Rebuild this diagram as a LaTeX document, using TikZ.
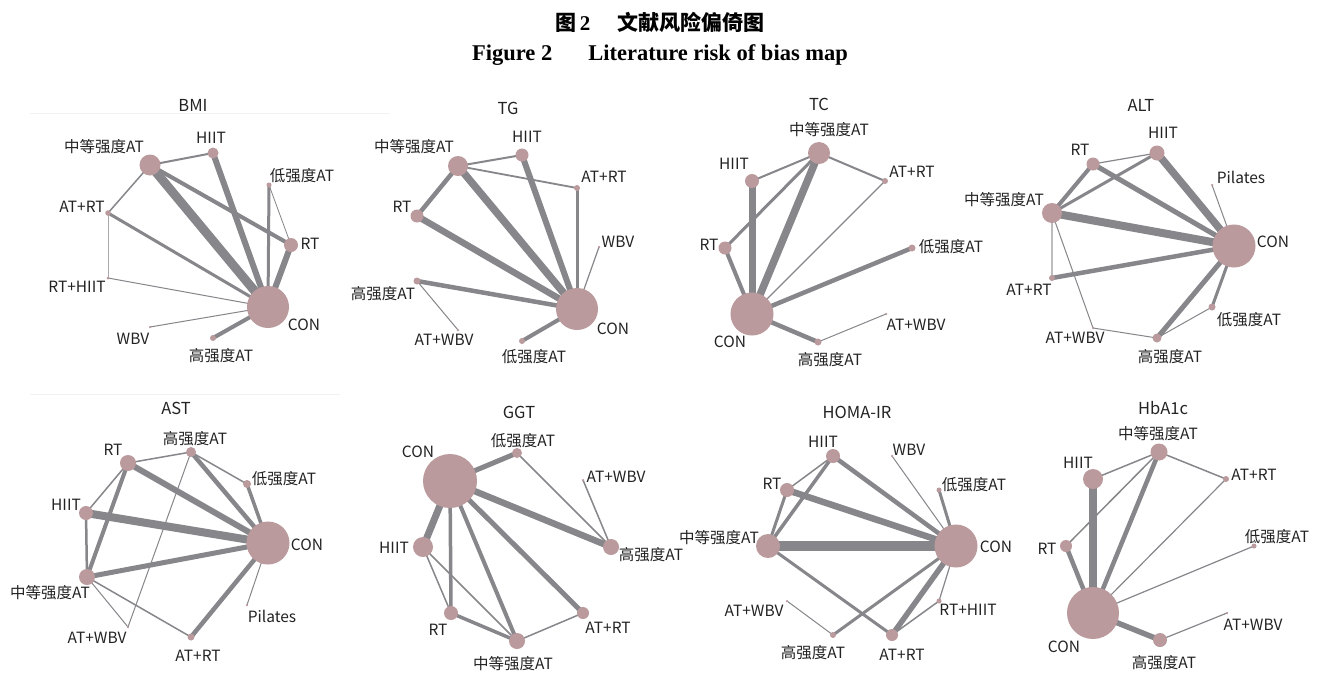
\documentclass[tikz,border=0pt]{standalone}
\usepackage{fontspec}
\setmainfont{Noto Sans CJK SC}
\newfontfamily\serifbf{Liberation Serif}
\usetikzlibrary{backgrounds}
\definecolor{edgec}{RGB}{134,134,139}
\definecolor{nodec}{RGB}{186,154,156}
\definecolor{titlec}{RGB}{35,35,35}
\tikzset{
  nd/.style={circle, fill=nodec, inner sep=0pt, minimum size=#1},
  lab/.style={font=\fontsize{15.5}{17}\selectfont, text=titlec, inner sep=0pt},
  ptitle/.style={font=\fontsize{16.5}{18}\selectfont, text=titlec, inner sep=0pt},
  ed/.style={draw=edgec, line width=#1},
  faint/.style={draw=black!5, line width=0.8}
}
\begin{document}
\begin{tikzpicture}[x=1pt,y=-1pt]
\useasboundingbox (0,0) rectangle (1320,673);
\begin{pgfonlayer}{background}
\fill[white] (0,0) rectangle (1320,673);
\end{pgfonlayer}
% figure title
\node[inner sep=0pt, font=\fontsize{21}{24}\selectfont\bfseries] (t1) at (660,22) {图\,{\serifbf\bfseries 2}\hspace{1.3em}文献风险偏倚图};
\node[inner sep=0pt, font=\fontsize{22.5}{25}\serifbf\bfseries] (t2) at (660,55) {Figure 2\hspace{1.6em}Literature risk of bias map};
% faint frame lines
\draw[faint] (30,113) -- (390,113);
\draw[faint] (30,394) -- (340,394);

% ================= BMI =================
\node[ptitle] (aT) at (193,105) {BMI};
\node[nd=21] (aM) at (150,165) {};
\node[nd=11] (aH) at (213,153) {};
\node[nd=5] (aL) at (269,185) {};
\node[nd=5.5] (aA) at (108,213) {};
\node[nd=14] (aR) at (291,245) {};
\node[nd=3] (aRH) at (108,278) {};
\node[nd=42] (aC) at (268,307) {};
\node[nd=2.5] (aW) at (150,327) {};
\node[nd=6] (aHi) at (213,338) {};
\node[lab] (aMl) at (104,147) {中等强度AT};
\node[lab] (aHl) at (211,138) {HIIT};
\node[lab] (aLl) at (302,176) {低强度AT};
\node[lab] (aAl) at (82,207) {AT+RT};
\node[lab] (aRl) at (310,244) {RT};
\node[lab] (aRHl) at (77,287) {RT+HIIT};
\node[lab] (aCl) at (304,325) {CON};
\node[lab] (aWl) at (133,339) {WBV};
\node[lab] (aHil) at (221,356) {高强度AT};
\begin{pgfonlayer}{background}
\draw[ed=2] (aM.center) -- (aH.center);
\draw[ed=9] (aM.center) -- (aC.center);
\draw[ed=4] (aM.center) -- (aR.center);
\draw[ed=1.5] (aM.center) -- (aA.center);
\draw[ed=6] (aH.center) -- (aC.center);
\draw[ed=3] (aL.center) -- (aC.center);
\draw[ed=0.8] (aL.center) -- (aR.center);
\draw[ed=6] (aR.center) -- (aC.center);
\draw[ed=3] (aA.center) -- (aC.center);
\draw[ed=0.9, draw=edgec!70] (aA.center) -- (aRH.center);
\draw[ed=1] (aRH.center) -- (aC.center);
\draw[ed=1] (aW.center) -- (aC.center);
\draw[ed=4] (aHi.center) -- (aC.center);
\end{pgfonlayer}

% ================= TG =================
\node[ptitle] (bT) at (508,108) {TG};
\node[nd=20] (bM) at (458,166) {};
\node[nd=13] (bH) at (522,155) {};
\node[nd=6] (bA) at (577,188) {};
\node[nd=13] (bR) at (417,216) {};
\node[nd=2.5] (bW) at (599,247) {};
\node[nd=7] (bHi) at (417,281) {};
\node[nd=2.5] (bAW) at (458,330) {};
\node[nd=42] (bC) at (577,309) {};
\node[nd=6] (bL) at (522,341) {};
\node[lab] (bMl) at (414,147) {中等强度AT};
\node[lab] (bHl) at (527,137) {HIIT};
\node[lab] (bAl) at (604,177) {AT+RT};
\node[lab] (bRl) at (402,207) {RT};
\node[lab] (bWl) at (618,242) {WBV};
\node[lab] (bHil) at (383,294) {高强度AT};
\node[lab] (bAWl) at (444,340) {AT+WBV};
\node[lab] (bCl) at (613,329) {CON};
\node[lab] (bLl) at (534,357) {低强度AT};
\begin{pgfonlayer}{background}
\draw[ed=2] (bM.center) -- (bH.center);
\draw[ed=1.8] (bM.center) -- (bA.center);
\draw[ed=4.5] (bM.center) -- (bR.center);
\draw[ed=7.5] (bM.center) -- (bC.center);
\draw[ed=6] (bH.center) -- (bC.center);
\draw[ed=3] (bA.center) -- (bC.center);
\draw[ed=6.5] (bR.center) -- (bC.center);
\draw[ed=1.2] (bW.center) -- (bC.center);
\draw[ed=4.5] (bHi.center) -- (bC.center);
\draw[ed=1] (bHi.center) -- (bAW.center);
\draw[ed=4] (bL.center) -- (bC.center);
\end{pgfonlayer}

% ================= TC =================
\node[ptitle] (cT) at (819,104) {TC};
\node[nd=22] (cM) at (819,153) {};
\node[nd=14] (cH) at (752,181) {};
\node[nd=6] (cA) at (885,181) {};
\node[nd=13] (cR) at (725,248) {};
\node[nd=7] (cL) at (912,248) {};
\node[nd=43] (cC) at (752,314) {};
\node[nd=2.5] (cAW) at (886,314) {};
\node[nd=7] (cHi) at (818,342) {};
\node[lab] (cMl) at (829,130) {中等强度AT};
\node[lab] (cHl) at (734,164) {HIIT};
\node[lab] (cAl) at (912,172) {AT+RT};
\node[lab] (cRl) at (709,245) {RT};
\node[lab] (cLl) at (951,247) {低强度AT};
\node[lab] (cCl) at (730,342) {CON};
\node[lab] (cAWl) at (916,325) {AT+WBV};
\node[lab] (cHil) at (830,360) {高强度AT};
\begin{pgfonlayer}{background}
\draw[ed=2] (cM.center) -- (cH.center);
\draw[ed=2] (cM.center) -- (cA.center);
\draw[ed=3] (cM.center) -- (cR.center);
\draw[ed=7.5] (cM.center) -- (cC.center);
\draw[ed=7] (cH.center) -- (cC.center);
\draw[ed=1.2] (cA.center) -- (cC.center);
\draw[ed=4] (cR.center) -- (cC.center);
\draw[ed=4.5] (cL.center) -- (cC.center);
\draw[ed=4.5] (cHi.center) -- (cC.center);
\draw[ed=1] (cHi.center) -- (cAW.center);
\end{pgfonlayer}

% ================= ALT =================
\node[ptitle] (dT) at (1141,105) {ALT};
\node[nd=15] (dH) at (1157,153) {};
\node[nd=13] (dR) at (1093,164) {};
\node[nd=2.5] (dP) at (1212,185) {};
\node[nd=20] (dM) at (1052,213) {};
\node[nd=43] (dC) at (1234,246) {};
\node[nd=6] (dA) at (1052,278) {};
\node[nd=7] (dL) at (1212,307) {};
\node[nd=2.5] (dAW) at (1093,328) {};
\node[nd=9] (dHi) at (1157,338) {};
\node[lab] (dHl) at (1163,133) {HIIT};
\node[lab] (dRl) at (1080,150) {RT};
\node[lab] (dPl) at (1241,177) {Pilates};
\node[lab] (dMl) at (1004,200) {中等强度AT};
\node[lab] (dCl) at (1273,242) {CON};
\node[lab] (dAl) at (1029,290) {AT+RT};
\node[lab] (dLl) at (1249,320) {低强度AT};
\node[lab] (dAWl) at (1075,338) {AT+WBV};
\node[lab] (dHil) at (1170,357) {高强度AT};
\begin{pgfonlayer}{background}
\draw[ed=1.2] (dR.center) -- (dH.center);
\draw[ed=4] (dR.center) -- (dM.center);
\draw[ed=5] (dR.center) -- (dC.center);
\draw[ed=3] (dH.center) -- (dM.center);
\draw[ed=7.5] (dH.center) -- (dC.center);
\draw[ed=1] (dP.center) -- (dC.center);
\draw[ed=8] (dM.center) -- (dC.center);
\draw[ed=2, draw=edgec!55] (dM.center) -- (dA.center);
\draw[ed=1] (dM.center) -- (dAW.center);
\draw[ed=4.5] (dA.center) -- (dC.center);
\draw[ed=1] (dAW.center) -- (dHi.center);
\draw[ed=5] (dHi.center) -- (dC.center);
\draw[ed=3] (dL.center) -- (dC.center);
\draw[ed=1] (dL.center) -- (dHi.center);
\end{pgfonlayer}

% ================= AST =================
\node[ptitle] (eT) at (176,408) {AST};
\node[nd=10] (eHi) at (191,452) {};
\node[nd=16] (eR) at (128,463) {};
\node[nd=8] (eL) at (247,484) {};
\node[nd=14] (eH) at (86,513) {};
\node[nd=43] (eC) at (268,543) {};
\node[nd=16] (eM) at (87,577) {};
\node[nd=2.5] (eP) at (247,605) {};
\node[nd=2.5] (eAW) at (128,627) {};
\node[nd=7] (eA) at (191,637) {};
\node[lab] (eHil) at (195,439) {高强度AT};
\node[lab] (eRl) at (113,450) {RT};
\node[lab] (eLl) at (284,479) {低强度AT};
\node[lab] (eHl) at (66,505) {HIIT};
\node[lab] (eCl) at (307,545) {CON};
\node[lab] (eMl) at (50,593) {中等强度AT};
\node[lab] (ePl) at (272,616) {Pilates};
\node[lab] (eAWl) at (97,638) {AT+WBV};
\node[lab] (eAl) at (198,656) {AT+RT};
\begin{pgfonlayer}{background}
\draw[ed=1.5] (eR.center) -- (eHi.center);
\draw[ed=6] (eR.center) -- (eC.center);
\draw[ed=1.5] (eR.center) -- (eH.center);
\draw[ed=4] (eR.center) -- (eM.center);
\draw[ed=1.5] (eHi.center) -- (eL.center);
\draw[ed=4.5] (eHi.center) -- (eC.center);
\draw[ed=1] (eHi.center) -- (eAW.center);
\draw[ed=3.5] (eL.center) -- (eC.center);
\draw[ed=8] (eH.center) -- (eC.center);
\draw[ed=2.5] (eH.center) -- (eM.center);
\draw[ed=5] (eM.center) -- (eC.center);
\draw[ed=1] (eM.center) -- (eAW.center);
\draw[ed=1.5] (eM.center) -- (eA.center);
\draw[ed=1] (eP.center) -- (eC.center);
\draw[ed=4.5] (eA.center) -- (eC.center);
\end{pgfonlayer}

% ================= GGT =================
\node[ptitle] (fT) at (519,412) {GGT};
\node[nd=54] (fC) at (450,481) {};
\node[nd=10] (fL) at (517,453) {};
\node[nd=2.5] (fAW) at (583,480) {};
\node[nd=16] (fHi) at (611,547) {};
\node[nd=20] (fH) at (423,547) {};
\node[nd=14] (fR) at (451,613) {};
\node[nd=12] (fA) at (583,613) {};
\node[nd=16] (fM) at (517,641) {};
\node[lab] (fCl) at (418,452) {CON};
\node[lab] (fLl) at (523,441) {低强度AT};
\node[lab] (fAWl) at (616,477) {AT+WBV};
\node[lab] (fHil) at (651,555) {高强度AT};
\node[lab] (fHl) at (394,548) {HIIT};
\node[lab] (fRl) at (438,630) {RT};
\node[lab] (fAl) at (608,628) {AT+RT};
\node[lab] (fMl) at (513,664) {中等强度AT};
\begin{pgfonlayer}{background}
\draw[ed=5] (fC.center) -- (fL.center);
\draw[ed=6.5] (fC.center) -- (fHi.center);
\draw[ed=7] (fC.center) -- (fH.center);
\draw[ed=3.5] (fC.center) -- (fR.center);
\draw[ed=4] (fC.center) -- (fM.center);
\draw[ed=5] (fC.center) -- (fA.center);
\draw[ed=1.5] (fL.center) -- (fHi.center);
\draw[ed=1.5] (fAW.center) -- (fHi.center);
\draw[ed=1.5] (fH.center) -- (fR.center);
\draw[ed=1.5] (fH.center) -- (fM.center);
\draw[ed=3.5] (fR.center) -- (fM.center);
\draw[ed=1.5] (fM.center) -- (fA.center);
\end{pgfonlayer}

% ================= HOMA-IR =================
\node[ptitle] (gT) at (857,412) {HOMA-IR};
\node[nd=14] (gH) at (833,456) {};
\node[nd=2.5] (gW) at (892,456) {};
\node[nd=14] (gR) at (787,490) {};
\node[nd=5] (gL) at (939,490) {};
\node[nd=24] (gM) at (768,546) {};
\node[nd=43] (gC) at (956,546) {};
\node[nd=2.5] (gAW) at (787,601) {};
\node[nd=5] (gRH) at (939,601) {};
\node[nd=6] (gHi) at (833,635) {};
\node[nd=12] (gA) at (892,635) {};
\node[lab] (gHl) at (823,442) {HIIT};
\node[lab] (gWl) at (909,450) {WBV};
\node[lab] (gRl) at (772,484) {RT};
\node[lab] (gLl) at (974,485) {低强度AT};
\node[lab] (gMl) at (719,538) {中等强度AT};
\node[lab] (gCl) at (996,547) {CON};
\node[lab] (gAWl) at (754,611) {AT+WBV};
\node[lab] (gRHl) at (968,610) {RT+HIIT};
\node[lab] (gHil) at (813,653) {高强度AT};
\node[lab] (gAl) at (902,655) {AT+RT};
\begin{pgfonlayer}{background}
\draw[ed=1.5] (gH.center) -- (gR.center);
\draw[ed=3.5] (gH.center) -- (gM.center);
\draw[ed=4.5] (gH.center) -- (gC.center);
\draw[ed=1] (gW.center) -- (gC.center);
\draw[ed=3] (gR.center) -- (gM.center);
\draw[ed=6.5] (gR.center) -- (gC.center);
\draw[ed=3] (gL.center) -- (gC.center);
\draw[ed=10] (gM.center) -- (gC.center);
\draw[ed=3] (gM.center) -- (gA.center);
\draw[ed=5.5] (gC.center) -- (gA.center);
\draw[ed=3] (gC.center) -- (gHi.center);
\draw[ed=1.2] (gC.center) -- (gRH.center);
\draw[ed=1.5] (gRH.center) -- (gA.center);
\draw[ed=1] (gAW.center) -- (gHi.center);
\end{pgfonlayer}

% ================= HbA1c =================
\node[ptitle] (hT) at (1163,408) {HbA1c};
\node[nd=17] (hM) at (1159,452) {};
\node[nd=20] (hH) at (1093,479) {};
\node[nd=6] (hA) at (1226,479) {};
\node[nd=12] (hR) at (1066,546) {};
\node[nd=5] (hL) at (1254,546) {};
\node[nd=52] (hC) at (1093,613) {};
\node[nd=2.5] (hAW) at (1227,613) {};
\node[nd=14] (hHi) at (1160,640) {};
\node[lab] (hMl) at (1158,434) {中等强度AT};
\node[lab] (hHl) at (1078,463) {HIIT};
\node[lab] (hAl) at (1254,475) {AT+RT};
\node[lab] (hRl) at (1047,549) {RT};
\node[lab] (hLl) at (1277,537) {低强度AT};
\node[lab] (hCl) at (1064,647) {CON};
\node[lab] (hAWl) at (1253,625) {AT+WBV};
\node[lab] (hHil) at (1164,663) {高强度AT};
\begin{pgfonlayer}{background}
\draw[ed=1.5] (hM.center) -- (hH.center);
\draw[ed=1.5] (hM.center) -- (hR.center);
\draw[ed=4.5] (hM.center) -- (hC.center);
\draw[ed=1.5] (hM.center) -- (hA.center);
\draw[ed=7.5] (hH.center) -- (hC.center);
\draw[ed=4.5] (hR.center) -- (hC.center);
\draw[ed=1.2] (hA.center) -- (hC.center);
\draw[ed=1.2] (hL.center) -- (hC.center);
\draw[ed=5.5] (hC.center) -- (hHi.center);
\draw[ed=1.2] (hHi.center) -- (hAW.center);
\end{pgfonlayer}
\end{tikzpicture}
\end{document}
